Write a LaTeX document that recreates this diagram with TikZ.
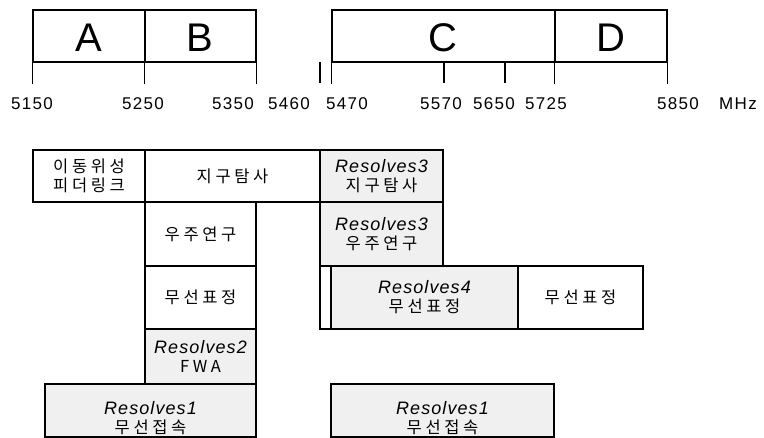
\documentclass[tikz,border=0pt]{standalone}
\usepackage{fontspec}
\setmainfont{Liberation Sans}
\newfontfamily\kr[LetterSpace=22]{Noto Sans CJK KR}
\newfontfamily\numf[LetterSpace=8]{Liberation Sans}
\newfontfamily\resf[LetterSpace=6]{Liberation Sans}
\newcommand{\rs}[1]{{\resf\itshape\fontsize{18}{18}\selectfont #1}}

\tikzset{
  band/.style={draw, line width=1.5pt, inner sep=0pt},
  bandlabel/.style={font=\fontsize{40}{40}\selectfont, inner sep=0pt},
  cell/.style={draw, line width=1.5pt, inner sep=0pt, align=center,
    font=\kr\fontsize{16.5}{19}\selectfont},
  shaded/.style={cell, fill=black!6},
  celltext/.style={align=center, inner sep=0pt,
    font=\kr\fontsize{16.5}{19}\selectfont},
  tick/.style={line width=1.4pt},
  freq/.style={font=\numf\fontsize{17}{17}\selectfont, inner sep=0pt}
}
% rectangle node spanning (x1,y1)-(x2,y2)
\newcommand{\cellbox}[7]{%
  \node[#1, minimum width=#5pt-#3pt, minimum height=#6pt-#4pt]
    (#2) at ({(#3+#5)/2},{(#4+#6)/2}) {#7};}

\begin{document}
\begin{tikzpicture}[x=1pt, y=-1pt]
\useasboundingbox (0,0) rectangle (764,437);

% frequency bands
\cellbox{band}{A}{33}{10}{145}{62}{}
\cellbox{band}{B}{145}{10}{256}{62}{}
\cellbox{band}{C}{332}{10}{555}{62}{}
\cellbox{band}{D}{555}{10}{667}{62}{}
\node[bandlabel] (lA) at (89,38) {A};
\node[bandlabel] (lB) at (200,38) {B};
\node[bandlabel] (lC) at (443,38) {C};
\node[bandlabel] (lD) at (611,38) {D};

% tick marks below the bands
\coordinate (t5460) at (320,62);
\coordinate (t5570) at (444,62);
\coordinate (t5650) at (505,62);
\draw[tick] (A.south west) -- ++(0,21);
\draw[tick] (B.south west) -- ++(0,21);
\draw[tick] (B.south east) -- ++(0,21);
\draw[tick] (t5460) -- ++(0,21);
\draw[tick] (C.south west) -- ++(0,21);
\draw[tick] (t5570) -- ++(0,21);
\draw[tick] (t5650) -- ++(0,21);
\draw[tick] (D.south west) -- ++(0,21);
\draw[tick] (D.south east) -- ++(0,21);

% frequency labels
\node[freq] (f1) at (32,104) {5150};
\node[freq] (f2) at (143,104) {5250};
\node[freq] (f3) at (233,104) {5350};
\node[freq] (f4) at (289,104) {5460};
\node[freq] (f5) at (347,104) {5470};
\node[freq] (f6) at (441,104) {5570};
\node[freq] (f7) at (494,104) {5650};
\node[freq] (f8) at (546,104) {5725};
\node[freq] (f9) at (678,104) {5850};
\node[freq] (mhz) at (738,104) {MHz};

% service allocations
\cellbox{cell}{fss}{33}{150}{145}{202}{이동위성\\피더링크}
\cellbox{cell}{eess}{145}{150}{320}{202}{지구탐사}
\cellbox{shaded}{eessR}{320}{150}{443}{202}{\rs{Resolves3}\\지구탐사}

\cellbox{cell}{srs}{145}{202}{256}{266}{우주연구}
\cellbox{shaded}{srsR}{320}{202}{443}{266}{\rs{Resolves3}\\우주연구}

\cellbox{cell}{rdl}{145}{266}{256}{329}{무선표정}
\cellbox{cell}{strip}{320}{266}{331}{329}{}
\cellbox{shaded}{rdR}{331}{266}{518}{329}{\rs{Resolves4}\\무선표정}
\cellbox{cell}{rdr}{518}{266}{643}{329}{무선표정}

\cellbox{shaded}{fwa}{145}{329}{256}{384}{\rs{Resolves2}\\FWA}

\cellbox{shaded}{rlanL}{45}{384}{256}{437}{}
\cellbox{shaded}{rlanR}{331}{384}{554}{437}{}
\node[celltext] (tL) at ([yshift=-8pt]rlanL.center) {\rs{Resolves1}\\무선접속};
\node[celltext] (tR) at ([yshift=-8pt]rlanR.center) {\rs{Resolves1}\\무선접속};
\end{tikzpicture}
\end{document}
